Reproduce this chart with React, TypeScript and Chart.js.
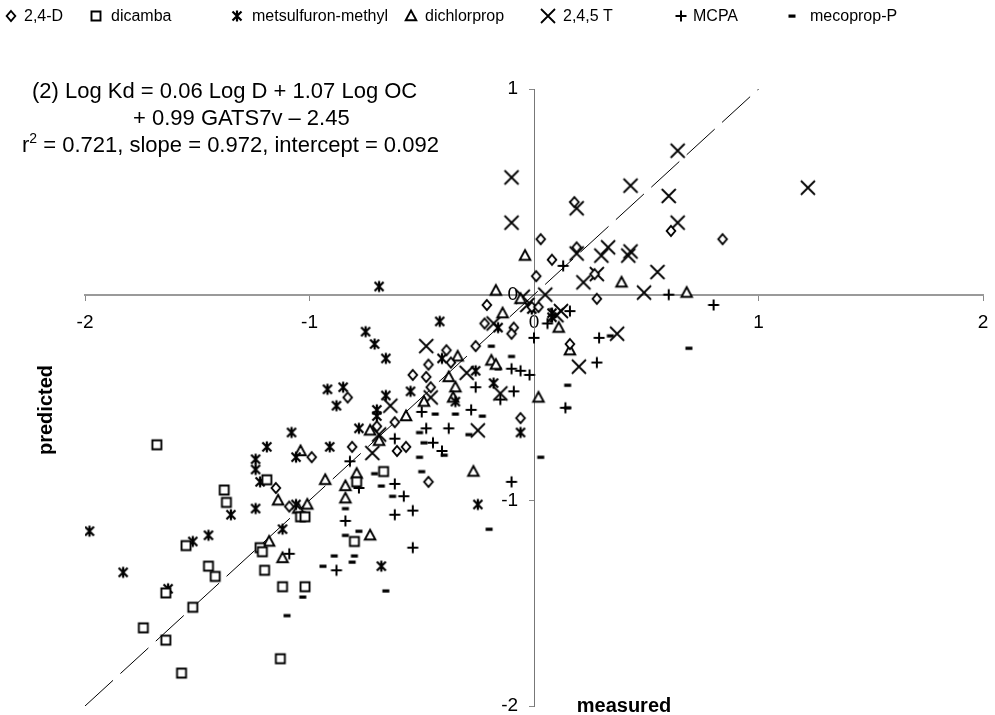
import React, { useEffect, useRef } from 'react';
import { Chart, registerables } from 'chart.js';

Chart.register(...registerables);

type Pt = [number, number];

const seriesNames = ['2,4-D', 'dicamba', 'metsulfuron-methyl', 'dichlorprop', '2,4,5 T', 'MCPA', 'mecoprop-P'];

const d24D: Pt[] = [
  [0.18, 0.45], [0.61, 0.31], [0.19, 0.23], [0.03, 0.27], [0.08, 0.17], [0.01, 0.09], [0.28, -0.02], [0.84, 0.27],
  [0.27, 0.10], [-0.21, -0.05], [-0.22, -0.14], [-0.09, -0.16], [-0.10, -0.19], [-0.01, -0.06], [0.02, -0.06],
  [0.16, -0.24], [-0.39, -0.27], [-0.26, -0.25], [-0.37, -0.33], [-0.47, -0.34], [-0.54, -0.39], [-0.48, -0.40],
  [-0.46, -0.45], [-0.83, -0.50], [-0.06, -0.60], [-0.62, -0.62], [-0.70, -0.64], [-0.81, -0.74], [-0.61, -0.76],
  [-0.57, -0.74], [-0.99, -0.79], [-1.15, -0.94], [-1.09, -1.03], [-0.47, -0.91],
];

const dicamba: Pt[] = [
  [-1.68, -0.73], [-1.38, -0.95], [-1.37, -1.01], [-1.55, -1.22], [-1.45, -1.32], [-1.42, -1.37], [-1.19, -0.90],
  [-1.04, -1.08], [-1.02, -1.08], [-1.22, -1.23], [-1.21, -1.25], [-1.20, -1.34], [-1.64, -1.45], [-1.52, -1.52],
  [-1.74, -1.62], [-1.64, -1.68], [-1.12, -1.42], [-1.02, -1.42], [-1.13, -1.77], [-1.57, -1.84], [-0.79, -0.91],
  [-0.67, -0.86], [-0.80, -1.20],
];

const metsulfuron: Pt[] = [
  [-1.98, -1.15], [-1.83, -1.35], [-1.52, -1.20], [-1.45, -1.17], [-1.35, -1.07], [-1.24, -1.04], [-1.19, -0.74],
  [-1.24, -0.80], [-1.24, -0.85], [-1.22, -0.91], [-1.06, -1.02], [-1.08, -0.67], [-1.06, -0.79], [-0.91, -0.74],
  [-1.12, -1.14], [-1.63, -1.43], [-0.88, -0.54], [-0.92, -0.46], [-0.85, -0.45], [-0.66, -0.49], [-0.66, -0.31],
  [-0.75, -0.18], [-0.71, -0.24], [-0.69, 0.04], [-0.42, -0.13], [-0.41, -0.31], [-0.55, -0.47], [-0.70, -0.56],
  [-0.70, -0.59], [-0.78, -0.65], [-0.35, -0.52], [-0.26, -0.37], [-0.18, -0.43], [-0.16, -0.16], [-0.06, -0.67],
  [-0.25, -1.02], [-0.68, -1.32], [0.08, -0.09], [0.08, -0.11], [-0.01, -0.07],
];

const dichlorprop: Pt[] = [
  [-0.04, 0.19], [-0.17, 0.02], [0.39, 0.06], [0.68, 0.01], [-0.06, -0.02], [-0.14, -0.09], [0.11, -0.16],
  [0.16, -0.27], [-0.34, -0.30], [-0.19, -0.32], [-0.17, -0.34], [-0.38, -0.40], [-0.35, -0.45], [-0.49, -0.52],
  [-0.36, -0.50], [0.02, -0.50], [-0.57, -0.59], [-0.73, -0.66], [-0.69, -0.71], [-1.04, -0.76], [-0.79, -0.87],
  [-0.27, -0.86], [-0.93, -0.90], [-0.84, -0.93], [-0.84, -0.99], [-1.14, -1.00], [-1.05, -1.04], [-1.01, -1.02],
  [-1.18, -1.20], [-1.12, -1.28], [-0.73, -1.17],
];

const t245: Pt[] = [
  [-0.10, 0.57], [-0.10, 0.35], [0.64, 0.70], [0.43, 0.53], [0.60, 0.48], [0.19, 0.42], [0.64, 0.35], [0.19, 0.20],
  [0.30, 0.19], [0.33, 0.23], [0.42, 0.19], [0.43, 0.21], [0.55, 0.11], [0.28, 0.10], [0.22, 0.06], [0.49, 0.01],
  [1.22, 0.52], [0.05, 0.00], [-0.05, -0.01], [0.12, -0.08], [0.37, -0.19], [0.20, -0.35], [-0.03, -0.05],
  [-0.18, -0.14], [-0.48, -0.25], [-0.30, -0.38], [-0.15, -0.48], [-0.46, -0.50], [-0.64, -0.54], [-0.25, -0.66],
  [-0.72, -0.77], [-0.69, -0.68], [0.10, -0.10],
];

const mcpa: Pt[] = [
  [0.13, 0.14], [0.60, 0.00], [0.80, -0.05], [0.16, -0.08], [0.06, -0.14], [0.00, -0.21], [0.29, -0.21],
  [0.28, -0.33], [-0.10, -0.36], [-0.06, -0.37], [-0.02, -0.39], [-0.26, -0.45], [-0.15, -0.51], [-0.09, -0.47],
  [0.14, -0.55], [-0.50, -0.57], [-0.28, -0.56], [-0.48, -0.65], [-0.38, -0.65], [-0.62, -0.70], [-0.45, -0.72],
  [-0.41, -0.76], [-0.82, -0.81], [-0.78, -0.94], [-0.62, -0.92], [-0.58, -0.98], [-0.54, -1.05], [-0.62, -1.07],
  [-0.84, -1.10], [-1.09, -1.26], [-0.88, -1.34], [-0.54, -1.23], [-0.10, -0.91],
];

const mecoprop: Pt[] = [
  [-0.19, -0.25], [-0.10, -0.30], [-0.16, -0.36], [0.15, -0.44], [0.15, -0.55], [0.34, -0.20], [0.69, -0.26],
  [-0.44, -0.58], [-0.35, -0.58], [-0.23, -0.59], [-0.29, -0.68], [-0.49, -0.72], [-0.40, -0.78], [-0.51, -0.79],
  [0.03, -0.79], [-0.71, -0.87], [-0.50, -0.86], [-0.68, -0.93], [-0.63, -0.98], [-0.84, -1.04], [-0.84, -1.17],
  [-0.78, -1.15], [-0.89, -1.27], [-0.80, -1.27], [-0.81, -1.30], [-0.94, -1.32], [-0.66, -1.44], [-1.03, -1.47],
  [-1.10, -1.56], [-0.20, -1.14], [-0.51, -0.67],
];

const fitLine: Pt[] = [[-2, -2], [1.03, 1.03]];

const xRange = [-2, 2];
const yRange = [-2, 1];

const equationLine1 = '(2) Log Kd = 0.06 Log D + 1.07 Log OC';
const equationLine2 = '+ 0.99 GATS7v \u2013 2.45';
const equationLine3 = ['r', '2', ' = 0.721, slope = 0.972, intercept = 0.092'];
const xTitle = 'measured';
const yTitle = 'predicted';

type MarkerKind = 'diamond' | 'square' | 'asterisk' | 'triangle' | 'x' | 'plus' | 'dash';
const markerKinds: MarkerKind[] = ['diamond', 'square', 'asterisk', 'triangle', 'x', 'plus', 'dash'];
const allSeries: Pt[][] = [d24D, dicamba, metsulfuron, dichlorprop, t245, mcpa, mecoprop];

const FONT = '"Liberation Sans", Arial, Helvetica, sans-serif';

function makeMarker(kind: MarkerKind): HTMLCanvasElement {
  const s = 22;
  const c = document.createElement('canvas');
  c.width = s;
  c.height = s;
  const ctx = c.getContext('2d')!;
  const m = s / 2;
  ctx.strokeStyle = '#000';
  ctx.fillStyle = '#fff';
  ctx.lineWidth = 1.9;
  ctx.beginPath();
  switch (kind) {
    case 'diamond':
      ctx.moveTo(m, m - 5);
      ctx.lineTo(m + 4.3, m);
      ctx.lineTo(m, m + 5);
      ctx.lineTo(m - 4.3, m);
      ctx.closePath();
      ctx.fill();
      ctx.stroke();
      break;
    case 'square':
      ctx.rect(m - 4.5, m - 4.5, 9, 9);
      ctx.fill();
      ctx.stroke();
      break;
    case 'asterisk':
      ctx.lineWidth = 2.2;
      ctx.moveTo(m - 4.5, m - 4.5);
      ctx.lineTo(m + 4.5, m + 4.5);
      ctx.moveTo(m + 4.5, m - 4.5);
      ctx.lineTo(m - 4.5, m + 4.5);
      ctx.moveTo(m, m - 5.5);
      ctx.lineTo(m, m + 5.5);
      ctx.stroke();
      break;
    case 'triangle':
      ctx.moveTo(m, m - 5.5);
      ctx.lineTo(m + 5.3, m + 4.3);
      ctx.lineTo(m - 5.3, m + 4.3);
      ctx.closePath();
      ctx.fill();
      ctx.stroke();
      break;
    case 'x':
      ctx.lineWidth = 1.8;
      ctx.moveTo(m - 7, m - 7);
      ctx.lineTo(m + 7, m + 7);
      ctx.moveTo(m + 7, m - 7);
      ctx.lineTo(m - 7, m + 7);
      ctx.stroke();
      break;
    case 'plus':
      ctx.lineWidth = 2;
      ctx.moveTo(m - 5.5, m);
      ctx.lineTo(m + 5.5, m);
      ctx.moveTo(m, m - 5.5);
      ctx.lineTo(m, m + 5.5);
      ctx.stroke();
      break;
    case 'dash':
      ctx.fillStyle = '#000';
      ctx.fillRect(m - 3.5, m - 1.5, 7, 3.2);
      break;
  }
  return c;
}

export default function App() {
  const canvasRef = useRef<HTMLCanvasElement | null>(null);

  useEffect(() => {
    if (!canvasRef.current) return;
    const markers = markerKinds.map(makeMarker);

    const legendMarkerX = [11, 96, 237, 411, 548, 681, 792];
    const legendTextX = [24, 111, 252, 425, 563, 693, 810];

    const textPlugin = {
      id: 'texts',
      afterDraw(chart: any) {
        const ctx: CanvasRenderingContext2D = chart.ctx;
        ctx.save();
        ctx.fillStyle = '#000';
        ctx.font = `16px ${FONT}`;
        ctx.textBaseline = 'middle';
        ctx.textAlign = 'left';
        seriesNames.forEach((name, i) => {
          const mk = markers[i];
          ctx.drawImage(mk, legendMarkerX[i] - mk.width / 2, 16 - mk.height / 2);
          ctx.fillText(name, legendTextX[i], 17);
        });
        ctx.textBaseline = 'alphabetic';
        ctx.font = `22px ${FONT}`;
        ctx.fillText(equationLine1, 32, 98);
        ctx.fillText(equationLine2, 133, 125);
        let x = 22;
        ctx.fillText(equationLine3[0], x, 152);
        x += ctx.measureText(equationLine3[0]).width;
        ctx.font = `14px ${FONT}`;
        ctx.fillText(equationLine3[1], x, 143);
        x += ctx.measureText(equationLine3[1]).width;
        ctx.font = `22px ${FONT}`;
        ctx.fillText(equationLine3[2], x, 152);
        ctx.font = `bold 20px ${FONT}`;
        ctx.textAlign = 'center';
        ctx.textBaseline = 'middle';
        ctx.fillText(xTitle, 624, 706);
        ctx.translate(46, 410);
        ctx.rotate(-Math.PI / 2);
        ctx.fillText(yTitle, 0, 0);
        ctx.restore();
      },
    };

    const zeroPad = (scale: any) => {
      scale.paddingLeft = 0;
      scale.paddingRight = 0;
      scale.paddingTop = 0;
      scale.paddingBottom = 0;
    };

    const datasets: any[] = allSeries.map((pts, i) => ({
      label: seriesNames[i],
      data: pts.map(([x, y]) => ({ x, y })),
      pointStyle: markers[i],
      pointRadius: 5,
      showLine: false,
    }));
    datasets.push({
      label: 'fit',
      data: fitLine.map(([x, y]) => ({ x, y })),
      showLine: true,
      borderColor: '#000',
      borderWidth: 1,
      borderDash: [38, 10],
      pointRadius: 0,
      fill: false,
      order: 10,
    });

    const chart = new Chart(canvasRef.current, {
      type: 'scatter',
      data: { datasets },
      options: {
        animation: false,
        responsive: false,
        layout: { padding: { left: 85, right: 12, top: 89, bottom: 9 } },
        plugins: { legend: { display: false }, tooltip: { enabled: false } },
        scales: {
          x: {
            type: 'linear',
            min: xRange[0],
            max: xRange[1],
            position: { y: 0 } as any,
            afterFit: zeroPad,
            ticks: { stepSize: 1, color: '#000', padding: 12, font: { family: FONT, size: 19 } },
            grid: { display: true, drawOnChartArea: false, drawTicks: true, tickLength: 5, tickColor: '#888' },
            border: { display: true, color: '#9a9a9a', width: 2 },
          },
          y: {
            type: 'linear',
            min: yRange[0],
            max: yRange[1],
            position: { x: 0 } as any,
            afterFit: zeroPad,
            ticks: {
              stepSize: 1,
              color: '#000',
              padding: 11,
              font: { family: FONT, size: 19 },
              callback: (v: any) => String(v) + '   ',
            },
            grid: { display: true, drawOnChartArea: false, drawTicks: true, tickLength: 5, tickColor: '#888' },
            border: { display: true, color: '#777', width: 1 },
          },
        },
      },
      plugins: [textPlugin],
    });
    return () => chart.destroy();
  }, []);

  return (
    <div style={{ position: 'absolute', left: 0, top: 0, width: 995, height: 715, background: '#fff' }}>
      <canvas ref={canvasRef} width={995} height={715} style={{ display: 'block' }} />
    </div>
  );
}
